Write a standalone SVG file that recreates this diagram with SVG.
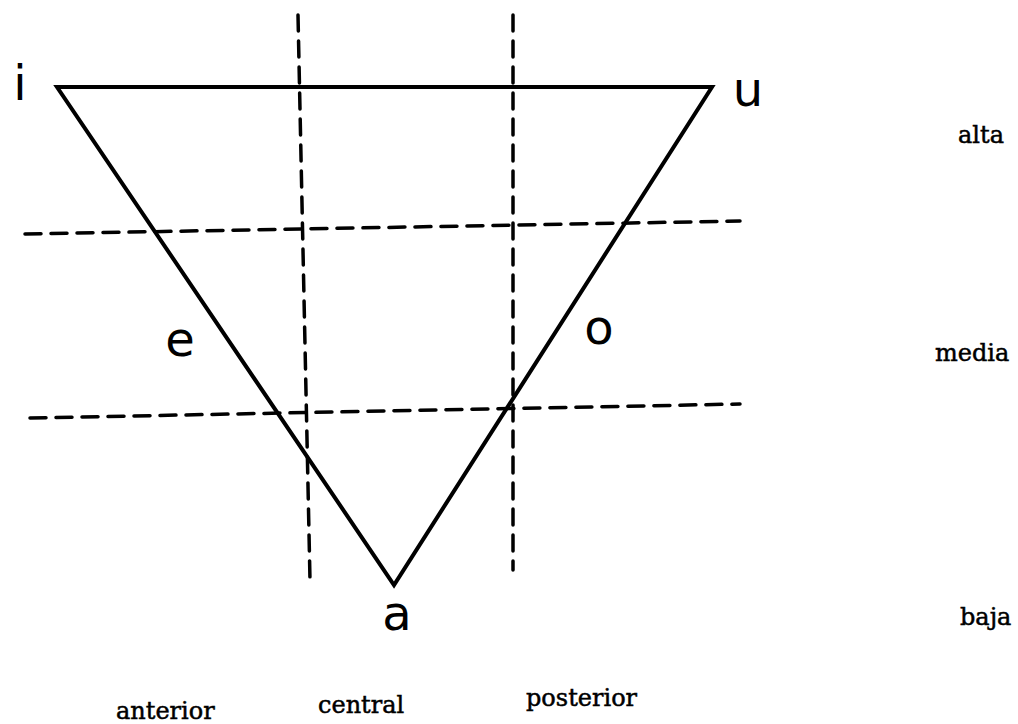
<svg xmlns="http://www.w3.org/2000/svg" width="1018" height="724" viewBox="0 0 1018 724">
<style>
.tri{fill:none;stroke:#000;stroke-width:4;stroke-linejoin:miter}
.dash{fill:none;stroke:#000;stroke-width:3.5;stroke-dasharray:16 10;stroke-linecap:round}
.vow{font-family:"DejaVu Sans",sans-serif;font-size:48px;text-anchor:middle;fill:#000}
.lab{font-family:"DejaVu Serif",serif;font-size:24px;fill:#000;stroke:#000;stroke-width:0.5}
</style>
<rect width="1018" height="724" fill="#fff"/>
<g id="connectors">
<line class="dash" x1="298" y1="15" x2="310" y2="580"/>
<line class="dash" x1="513" y1="15" x2="513" y2="570"/>
<line class="dash" x1="25" y1="234" x2="740" y2="221"/>
<line class="dash" x1="30" y1="418" x2="740" y2="404"/>
</g>
<g id="triangle">
<polygon class="tri" points="57,87 712,87 394,585"/>
</g>
<g id="vowel-i"><text class="vow" x="20" y="100">i</text></g>
<g id="vowel-u"><text class="vow" x="748" y="106">u</text></g>
<g id="vowel-e"><text class="vow" x="180" y="356">e</text></g>
<g id="vowel-o"><text class="vow" x="599" y="344">o</text></g>
<g id="vowel-a"><text class="vow" x="397" y="630">a</text></g>
<g id="label-alta"><text class="lab" x="958" y="143">alta</text></g>
<g id="label-media"><text class="lab" x="935" y="361">media</text></g>
<g id="label-baja"><text class="lab" x="960" y="625">baja</text></g>
<g id="label-anterior"><text class="lab" x="116" y="719">anterior</text></g>
<g id="label-central"><text class="lab" x="318" y="713">central</text></g>
<g id="label-posterior"><text class="lab" x="526" y="706">posterior</text></g>
</svg>
